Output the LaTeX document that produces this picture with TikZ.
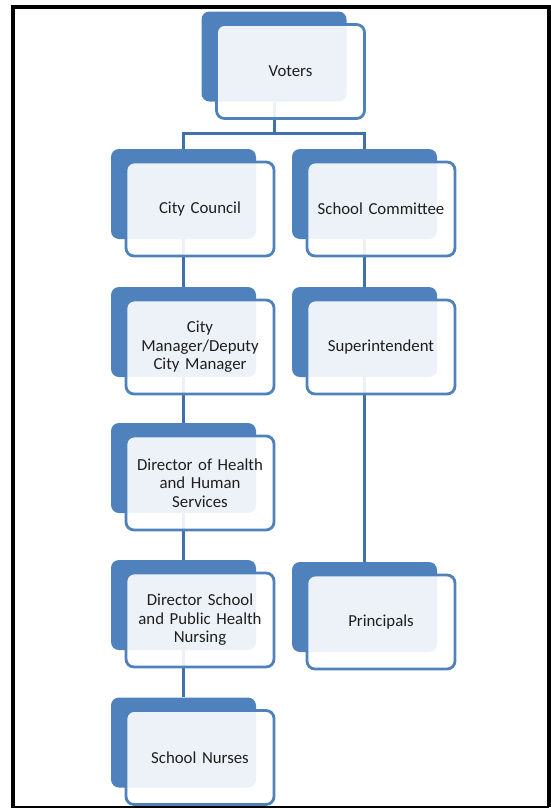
\documentclass[tikz,border=0pt]{standalone}
\usepackage{fontspec}
\setmainfont{Carlito}
\usepackage{tikz}
\usetikzlibrary{positioning, backgrounds, calc}
\definecolor{boxblue}{RGB}{79, 129, 189}
\definecolor{linkblue}{RGB}{65, 113, 170}
\definecolor{textgray}{RGB}{30, 30, 30}

\tikzset{
    backbox/.style={fill=boxblue, rounded corners=8pt, minimum width=145pt, minimum height=90pt, inner sep=0pt},
    frontbox/.style={draw=boxblue, line width=2.8pt, fill=white, fill opacity=0.9, text opacity=1,
        rounded corners=8pt, minimum width=148pt, minimum height=94pt, text width=132pt, align=center,
        inner sep=0pt, font=\fontsize{16.8}{18.5}\selectfont, text=textgray},
    link/.style={draw=linkblue, line width=3pt}
}

\begin{document}
\begin{tikzpicture}[x=1pt, y=-1pt]
    \useasboundingbox (0, 0) rectangle (551, 809);

    % Frame
    \draw[line width=4pt] (13, 7) -- (549, 7) -- (549, 807);
    \draw[line width=4pt] (13, 5) -- (13, 807);
    \draw[line width=1.5pt] (11, 807) -- (549, 807);

    % Back boxes
    \node[backbox] (voters) at (274, 56.5) {};
    \node[backbox] (council) at (183.5, 194) {};
    \node[backbox] (committee) at (364.5, 194) {};
    \node[backbox] (manager) at (183.5, 332) {};
    \node[backbox] (super) at (364.5, 332) {};
    \node[backbox] (health) at (183.5, 468) {};
    \node[backbox] (nursing) at (183.5, 605) {};
    \node[backbox] (principals) at (364.5, 607) {};
    \node[backbox] (nurses) at (183.5, 742.5) {};

    % Front boxes
    \node[frontbox] (votersF) at ($(voters)+(16.5, 15)$) {Voters};
    \node[frontbox] (councilF) at ($(council)+(16.5, 15)$) {City Council};
    \node[frontbox] (committeeF) at ($(committee)+(16.5, 15)$) {School Committee};
    \node[frontbox] (managerF) at ($(manager)+(16.5, 15)$) {City\\Manager/Deputy\\City Manager};
    \node[frontbox] (superF) at ($(super)+(16.5, 15)$) {Superintendent};
    \node[frontbox] (healthF) at ($(health)+(16.5, 15)$) {Director of Health\\and Human\\Services};
    \node[frontbox] (nursingF) at ($(nursing)+(16.5, 15)$) {Director School\\and Public Health\\Nursing};
    \node[frontbox] (principalsF) at ($(principals)+(16.5, 15)$) {Principals};
    \node[frontbox] (nursesF) at ($(nurses)+(16.5, 15)$) {School Nurses};

    % Connectors
    \coordinate (bar) at (274, 133);
    \begin{scope}[on background layer]
        \draw[link] (voters.south) -- (bar) -| (council.north);
        \draw[link] (bar) -| (committee.north);
        \draw[link] (council.south) -- (manager.north);
        \draw[link] (manager.south) -- (health.north);
        \draw[link] (health.south) -- (nursing.north);
        \draw[link] (nursing.south) -- (nurses.north);
        \draw[link] (committee.south) -- (super.north);
        \draw[link] (super.south) -- (principals.north);
    \end{scope}

\end{tikzpicture}
\end{document}
